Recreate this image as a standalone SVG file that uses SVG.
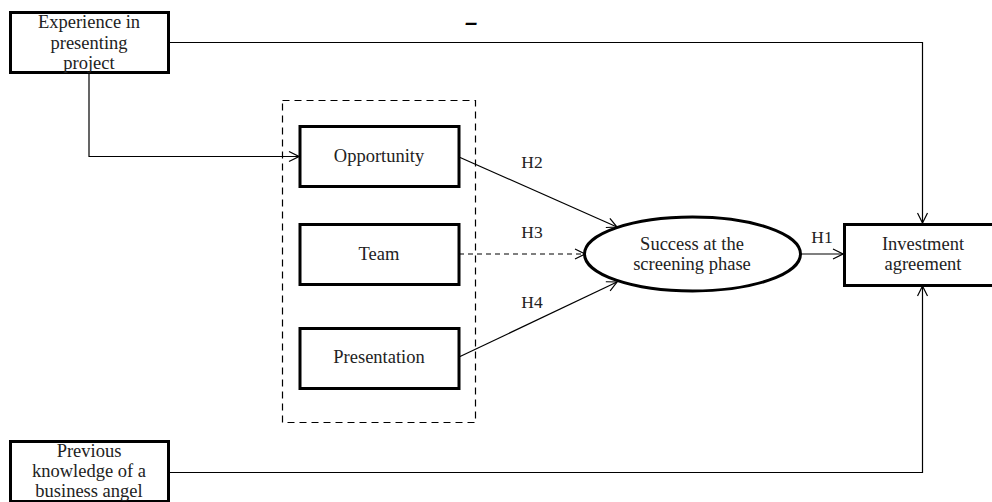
<svg xmlns="http://www.w3.org/2000/svg" width="992" height="502" viewBox="0 0 992 502">
  <style>
    .box { fill: #fff; stroke: #000; stroke-width: 3; }
    .ell { fill: #fff; stroke: #000; stroke-width: 3; }
    .lbl { font-family: "Liberation Serif", "Times New Roman", serif; font-size: 18.5px; fill: #222; text-anchor: middle; }
    .h { font-family: "Liberation Serif", "Times New Roman", serif; font-size: 17.5px; fill: #222; text-anchor: middle; }
    .wire { fill: none; stroke: #000; stroke-width: 1.2; }
    .dash { stroke-dasharray: 5 4; }
    .group { fill: none; stroke: #000; stroke-width: 1.2; stroke-dasharray: 7 5; }
  </style>
  <defs>
    <marker id="arrow" viewBox="0 0 12 12" refX="11" refY="6" markerWidth="12" markerHeight="12" markerUnits="userSpaceOnUse" orient="auto">
      <polyline points="1,1 11,6 1,11" fill="none" stroke="#000" stroke-width="1.2"/>
    </marker>
  </defs>
  <rect width="992" height="502" fill="#fff"/>

  <!-- connectors -->
  <g id="connectors">
    <polyline class="wire" points="168,42.5 922.5,42.5 922.5,223" marker-end="url(#arrow)"/>
    <polyline class="wire" points="89,73 89,156.5 299,156.5" marker-end="url(#arrow)"/>
    <line class="wire" x1="459" y1="157" x2="617" y2="227" marker-end="url(#arrow)"/>
    <line class="wire dash" x1="459" y1="254" x2="585" y2="254" marker-end="url(#arrow)"/>
    <line class="wire" x1="459" y1="357" x2="617" y2="282" marker-end="url(#arrow)"/>
    <line class="wire" x1="801" y1="254" x2="843" y2="254" marker-end="url(#arrow)"/>
    <polyline class="wire" points="168,472.5 922.5,472.5 922.5,286" marker-end="url(#arrow)"/>
    <text x="471" y="30" font-family="Liberation Sans, Arial, sans-serif" font-size="22" font-weight="bold" font-style="italic" text-anchor="middle">–</text>
    <text class="h" x="532" y="168">H2</text>
    <text class="h" x="532" y="238">H3</text>
    <text class="h" x="532" y="308">H4</text>
    <text class="h" x="822" y="243">H1</text>
  </g>

  <!-- dashed grouping frame -->
  <rect class="group" x="282.5" y="100.5" width="193" height="322"/>

  <g id="experience">
    <rect class="box" x="10.5" y="12.5" width="158" height="60"/>
    <text class="lbl" x="89" y="28">Experience in</text>
    <text class="lbl" x="89" y="49">presenting</text>
    <text class="lbl" x="89" y="69">project</text>
  </g>

  <g id="opportunity">
    <rect class="box" x="300" y="126.5" width="159" height="60"/>
    <text class="lbl" x="379" y="162">Opportunity</text>
  </g>

  <g id="team">
    <rect class="box" x="300" y="224.5" width="159" height="60"/>
    <text class="lbl" x="379" y="260">Team</text>
  </g>

  <g id="presentation">
    <rect class="box" x="300" y="328.5" width="159" height="60"/>
    <text class="lbl" x="379" y="363">Presentation</text>
  </g>

  <g id="success">
    <ellipse class="ell" cx="692.5" cy="254" rx="108" ry="37"/>
    <text class="lbl" x="692" y="250">Success at the</text>
    <text class="lbl" x="692" y="270">screening phase</text>
  </g>

  <g id="investment">
    <rect class="box" x="844.5" y="224.5" width="160" height="61"/>
    <text class="lbl" x="923" y="250">Investment</text>
    <text class="lbl" x="923" y="270">agreement</text>
  </g>

  <g id="knowledge">
    <rect class="box" x="10.5" y="441.5" width="158" height="60"/>
    <text class="lbl" x="89" y="457">Previous</text>
    <text class="lbl" x="89" y="477">knowledge of a</text>
    <text class="lbl" x="89" y="497">business angel</text>
  </g>
</svg>
